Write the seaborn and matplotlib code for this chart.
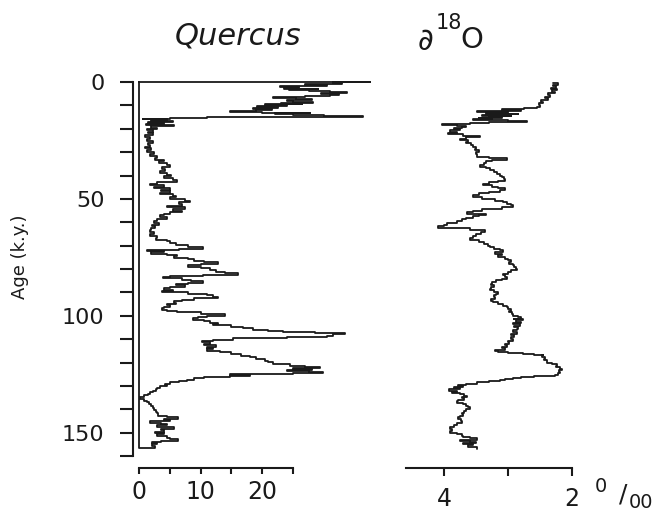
import numpy as np
import pandas as pd
import matplotlib
matplotlib.use("Agg")
import matplotlib.pyplot as plt
import seaborn as sns

# Quercus pollen (%) against age (k.y.)
quercus_age = [
    0.0, 0.5, 0.9, 1.3, 1.7, 2.0, 2.4, 2.8, 3.2, 3.5, 3.9, 4.3, 4.7, 5.1, 5.5, 6.0,
    6.4, 6.8, 7.2, 7.6, 8.0, 8.4, 8.8, 9.2, 9.6, 10.0, 10.4, 10.8, 11.2, 11.6, 12.0,
    12.4, 12.7, 13.1, 13.4, 13.8, 14.2, 14.6, 14.9, 15.3, 15.7, 16.0, 16.4, 16.8,
    17.2, 17.6, 18.0, 18.5, 19.0, 19.6, 20.1, 20.6, 21.3, 22.0, 22.8, 23.6, 24.4,
    25.2, 26.0, 26.8, 27.6, 28.4, 29.2, 30.0, 30.8, 31.6, 32.4, 33.2, 34.0, 34.8,
    35.6, 36.4, 37.2, 38.0, 38.8, 39.6, 40.4, 41.2, 42.0, 42.8, 43.5, 44.2, 44.8,
    45.4, 46.0, 46.7, 47.4, 48.0, 48.7, 49.4, 50.1, 50.8, 51.5, 52.2, 52.9, 53.6,
    54.3, 55.0, 55.7, 56.4, 57.1, 57.8, 58.6, 59.4, 60.2, 61.0, 61.8, 62.6, 63.4,
    64.2, 65.0, 65.8, 66.6, 67.4, 68.2, 69.0, 69.8, 70.6, 71.3, 71.9, 72.4, 72.9,
    73.4, 74.0, 74.6, 75.2, 75.8, 76.4, 77.0, 77.7, 78.3, 79.0, 79.7, 80.4, 81.1,
    81.8, 82.5, 83.0, 83.5, 84.0, 84.6, 85.2, 85.8, 86.4, 87.0, 87.6, 88.2, 88.8,
    89.4, 90.0, 90.6, 91.3, 92.0, 92.6, 93.2, 93.8, 94.4, 95.0, 95.6, 96.2, 96.8,
    97.4, 98.0, 98.6, 99.2, 99.9, 100.5, 101.1, 101.7, 102.3, 102.9, 103.5, 104.1,
    104.7, 105.4, 106.0, 106.6, 107.0, 107.5, 108.0, 108.5, 109.0, 109.6, 110.2,
    110.8, 111.4, 112.0, 112.6, 113.2, 113.8, 114.4, 115.0, 115.7, 116.4, 117.1,
    117.8, 118.5, 119.2, 119.9, 120.6, 121.3, 121.9, 122.4, 122.8, 123.2, 123.6,
    124.0, 124.4, 124.8, 125.2, 125.7, 126.2, 126.8, 127.4, 127.9, 128.5, 129.0,
    129.6, 130.2, 130.8, 131.4, 132.0, 132.7, 133.4, 134.1, 134.8, 135.6, 136.3,
    137.0, 137.8, 138.6, 139.4, 140.2, 141.0, 141.8, 142.7, 143.4, 144.0, 144.6,
    145.2, 145.7, 146.3, 146.9, 147.5, 148.3, 149.0, 149.6, 150.2, 150.8, 151.5,
    152.2, 152.8, 153.4, 154.0, 154.5, 155.0, 155.6, 156.4,
]
quercus_pct = [
    37.4, 31.5, 33.0, 27.0, 30.5, 22.9, 26.0, 23.5, 29.0, 24.3, 27.5, 31.0, 33.8, 29.5, 32.5, 31.0,
    27.0, 21.8, 25.5, 28.0, 24.0, 25.0, 28.3, 23.0, 26.5, 20.5, 24.0, 19.2, 22.5, 18.5, 21.5,
    19.0, 14.8, 20.0, 27.8, 22.0, 25.0, 30.0, 36.3, 11.0, 5.0, 0.7, 4.5, 2.0,
    5.5, 1.5, 4.0, 1.2, 5.6, 2.0, 3.0, 1.3, 2.3, 1.5, 2.3, 1.0, 1.8,
    1.3, 2.2, 1.4, 1.8, 1.0, 2.0, 1.3, 2.4, 1.8, 3.0, 2.6, 4.0, 3.2,
    4.5, 5.0, 3.8, 4.2, 3.4, 4.6, 5.2, 4.0, 5.5, 6.1, 3.0, 1.8, 4.0,
    2.5, 5.0, 3.5, 5.0, 3.4, 5.5, 6.0, 5.0, 7.5, 8.3, 6.5, 7.0, 4.5,
    7.5, 5.5, 7.0, 5.0, 4.0, 3.4, 4.5, 3.0, 2.4, 3.2, 2.1, 2.6, 2.0,
    1.8, 2.5, 1.8, 3.0, 2.8, 4.5, 5.0, 6.0, 8.0, 10.4, 6.5, 1.3, 4.0,
    2.0, 4.5, 6.1, 5.6, 8.0, 9.0, 10.5, 12.8, 10.0, 8.0, 10.0, 11.5, 12.5,
    14.0, 16.1, 10.4, 5.0, 3.9, 7.0, 8.5, 10.4, 8.0, 6.0, 7.5, 5.0, 4.0,
    5.5, 3.7, 8.0, 11.0, 12.0, 12.8, 9.0, 7.0, 5.6, 6.0, 4.5, 5.0, 4.0,
    3.7, 4.5, 6.1, 10.0, 14.0, 11.0, 9.5, 8.8, 10.5, 11.5, 12.8, 12.0,
    15.0, 16.9, 18.5, 21.0, 23.4, 28.5, 33.5, 31.5, 30.5, 24.0, 15.3,
    12.0, 10.2, 11.5, 10.5, 12.5, 11.0, 12.0, 11.0, 13.2, 15.0, 16.5,
    18.0, 19.0, 20.5, 21.0, 21.8, 24.5, 27.0, 29.4, 25.0, 28.0, 24.0,
    27.5, 29.8, 25.0, 14.8, 18.0, 14.8, 10.5, 9.0, 7.8, 6.5, 5.0,
    4.2, 4.5, 3.4, 3.0, 2.8, 2.3, 1.8, 1.5, 0.8, 0.1, 0.8,
    1.3, 1.6, 2.0, 2.3, 2.5, 2.8, 3.0, 3.1, 4.5, 6.3, 4.0,
    5.0, 1.8, 3.5, 4.5, 3.0, 5.6, 3.5, 4.0, 2.6, 4.0, 3.0,
    4.5, 5.0, 6.3, 3.5, 2.1, 3.0, 2.1, 2.6,
]

# Oxygen isotope record (per mil) against age (k.y.)
d18o_age = [
    0.6, 1.2, 1.8, 2.4, 3.0, 3.6, 4.2, 4.8, 5.4, 6.3, 7.0, 7.7, 8.4, 9.1, 9.8, 10.5,
    11.2, 11.6, 12.0, 12.3, 12.6, 12.9, 13.2, 13.5, 13.8, 14.1, 14.4, 14.7, 15.0,
    15.3, 15.6, 15.9, 16.2, 16.6, 17.0, 17.4, 17.8, 18.1, 18.4, 18.8, 19.2, 19.7,
    20.2, 20.7, 21.2, 21.8, 22.3, 22.9, 23.5, 24.2, 24.9, 25.6, 26.3, 27.0, 27.7,
    28.5, 29.3, 30.1, 31.0, 32.0, 32.7, 33.4, 34.0, 34.6, 35.4, 36.3, 37.0, 37.8,
    38.5, 39.2, 40.0, 40.8, 41.5, 42.2, 42.9, 43.6, 44.2, 44.8, 45.5, 46.3, 47.0,
    47.7, 48.5, 49.2, 49.9, 50.7, 51.4, 52.1, 52.8, 53.6, 54.3, 55.0, 55.6, 56.3,
    56.9, 57.5, 58.1, 58.8, 59.6, 60.4, 61.1, 61.8, 62.6, 63.4, 64.2, 65.0, 65.8,
    66.7, 67.7, 68.5, 69.4, 70.2, 70.6, 71.3, 72.0, 72.8, 73.5, 74.2, 75.0, 75.6,
    76.3, 77.0, 77.7, 78.4, 79.2, 80.0, 80.6, 81.3, 82.0, 82.7, 83.4, 84.1, 84.8,
    85.6, 86.3, 87.0, 87.8, 88.5, 89.1, 89.8, 90.6, 91.3, 92.0, 92.8, 93.5, 94.3,
    95.0, 95.7, 96.4, 97.1, 97.8, 98.5, 99.2, 100.0, 100.6, 101.2, 101.6, 102.0,
    102.5, 103.0, 103.6, 104.2, 104.8, 105.5, 106.3, 107.0, 107.7, 108.4, 109.2,
    110.0, 110.6, 111.3, 112.0, 112.7, 113.4, 114.0, 114.6, 115.0, 115.6, 116.0,
    116.3, 116.7, 117.0, 117.6, 118.3, 119.0, 119.6, 120.0, 120.6, 121.4, 122.0,
    122.7, 123.4, 124.0, 124.6, 125.2, 125.6, 126.0, 126.5, 127.0, 127.5, 128.0,
    128.5, 129.0, 129.5, 130.0, 130.5, 131.0, 131.5, 132.0, 132.5, 133.0, 133.6,
    134.2, 134.8, 135.4, 136.0, 136.6, 137.2, 137.8, 138.5, 139.2, 140.0, 140.7,
    141.4, 142.1, 142.8, 143.5, 144.3, 145.1, 146.0, 146.8, 147.6, 148.4, 149.2,
    150.0, 150.7, 151.3, 152.0, 152.5, 153.0, 153.5, 154.0, 154.5, 155.0, 155.5,
    156.0, 157.0,
]
d18o_val = [
    2.30, 2.22, 2.30, 2.25, 2.33, 2.24, 2.32, 2.27, 2.38, 2.34, 2.42, 2.38, 2.48, 2.45, 2.52, 2.50,
    2.55, 2.75, 3.09, 2.80, 3.30, 3.48, 3.00, 3.35, 2.85, 3.20, 3.40, 2.95, 3.30,
    3.10, 3.45, 3.25, 3.55, 3.00, 2.70, 3.30, 3.60, 3.90, 4.03, 3.80, 3.65, 3.72,
    3.85, 3.75, 3.90, 3.80, 3.94, 3.70, 3.44, 3.65, 3.75, 3.62, 3.66, 3.58, 3.55,
    3.50, 3.52, 3.46, 3.50, 3.48, 3.30, 3.02, 3.25, 3.35, 3.38, 3.44, 3.35, 3.28,
    3.22, 3.17, 3.12, 3.10, 3.07, 3.05, 3.15, 3.30, 3.39, 3.25, 3.15, 3.05, 3.12,
    3.30, 3.45, 3.55, 3.40, 3.20, 3.08, 3.02, 2.96, 2.92, 3.10, 3.40, 3.55, 3.64,
    3.35, 3.45, 3.55, 3.65, 3.72, 3.80, 3.95, 4.00, 4.09, 3.60, 3.36, 3.42, 3.50,
    3.55, 3.59, 3.45, 3.38, 3.32, 3.28, 3.22, 3.12, 3.08, 3.20, 3.10, 3.15, 3.05,
    3.00, 2.95, 2.98, 2.92, 2.90, 2.88, 2.86, 2.95, 3.00, 3.08, 3.04, 3.02, 3.10,
    3.18, 3.25, 3.27, 3.22, 3.26, 3.28, 3.22, 3.16, 3.18, 3.22, 3.20, 3.26, 3.23,
    3.15, 3.08, 3.02, 3.00, 2.96, 2.98, 2.94, 2.92, 2.85, 2.80, 2.90, 2.77,
    2.88, 2.80, 2.92, 2.82, 2.90, 2.85, 2.86, 2.92, 2.86, 2.95, 2.90,
    2.95, 2.92, 3.00, 2.98, 3.05, 3.02, 3.10, 3.05, 3.20, 3.16, 3.00,
    2.77, 2.60, 2.45, 2.47, 2.42, 2.44, 2.39, 2.39, 2.32, 2.23, 2.25,
    2.18, 2.16, 2.20, 2.18, 2.22, 2.27, 2.60, 2.80, 2.92, 3.05, 3.13,
    3.30, 3.48, 3.65, 3.78, 3.70, 3.85, 3.75, 3.92, 3.80, 3.88, 3.75,
    3.68, 3.64, 3.72, 3.68, 3.78, 3.80, 3.70, 3.66, 3.62, 3.59, 3.65,
    3.68, 3.72, 3.70, 3.75, 3.78, 3.74, 3.72, 3.80, 3.85, 3.90, 3.88,
    3.91, 3.80, 3.72, 3.70, 3.60, 3.48, 3.75, 3.60, 3.50, 3.70, 3.55,
    3.62, 3.48,
]

age_ticks = [0, 50, 100, 150]
quercus_ticks = [0, 10, 20]
d18o_ticks = [4, 2]

sns.set_theme(style="white")
plt.rcParams["font.family"] = ["DejaVu Sans"]

W, H = 659, 515
fig = plt.figure(figsize=(W / 100, H / 100), dpi=100)
fig.patch.set_facecolor("white")


def frac(x0, x1, y_top, y_bot):
    return [x0 / W, 1 - y_bot / H, (x1 - x0) / W, (y_bot - y_top) / H]


ink = "#1a1a1a"

# Quercus panel: curve drawn as an outline closed against the zero line
ax1 = fig.add_axes(frac(139, 380, 82, 456))
q_x = [0.0] + quercus_pct + [0.0, 0.0]
q_y = [quercus_age[0]] + quercus_age + [quercus_age[-1], 0.0]
q_df = pd.DataFrame({"pct": q_x, "age": q_y})
sns.lineplot(data=q_df, x="pct", y="age", sort=False, estimator=None,
             drawstyle="steps-post", color=ink, lw=1.3, ax=ax1)
for ln in ax1.lines:
    ln.set_clip_on(False)
ax1.set_xlim(0, 39.1)
ax1.set_ylim(160, 0)
for s in ("top", "right"):
    ax1.spines[s].set_visible(False)
ax1.spines["left"].set_position(("outward", 4.5))
ax1.spines["bottom"].set_position(("outward", 8.6))
ax1.spines["bottom"].set_bounds(0, 25)
for s in ("left", "bottom"):
    ax1.spines[s].set_color(ink)
    ax1.spines[s].set_linewidth(1.5)
ax1.set_yticks(age_ticks)
ax1.set_yticks(np.arange(0, 161, 10), minor=True)
ax1.set_xticks(np.arange(0, 26, 5), minor=True)
ax1.set_xticks(quercus_ticks)
ax1.tick_params(axis="y", which="both", direction="out", length=9.4, width=1.5,
                color=ink, left=True, labelsize=16, pad=11, labelcolor=ink)
ax1.tick_params(axis="x", which="both", direction="out", length=4, width=1.5,
                color=ink, bottom=True, labelsize=17, pad=5, labelcolor=ink)
ax1.set_xlabel("")
ax1.set_ylabel("")
ax1.patch.set_alpha(0)

# Oxygen isotope panel (reversed axis)
ax2 = fig.add_axes(frac(400, 590, 82, 456))
o_df = pd.DataFrame({"d18o": d18o_val, "age": d18o_age})
sns.lineplot(data=o_df, x="d18o", y="age", sort=False, estimator=None,
             drawstyle="steps-post", color=ink, lw=1.3, ax=ax2)
ax2.set_xlim(4.6875, 1.719)
ax2.set_ylim(160, 0)
for s in ("top", "right", "left"):
    ax2.spines[s].set_visible(False)
ax2.spines["bottom"].set_position(("outward", 8.6))
ax2.spines["bottom"].set_bounds(4.6, 2)
ax2.spines["bottom"].set_color(ink)
ax2.spines["bottom"].set_linewidth(1.5)
ax2.set_xticks([3], minor=True)
ax2.set_xticks(d18o_ticks)
ax2.set_yticks([])
ax2.tick_params(axis="x", which="both", direction="out", length=6, width=1.5,
                color=ink, bottom=True, labelsize=17, pad=8, labelcolor=ink)
ax2.set_xlabel("")
ax2.set_ylabel("")
ax2.patch.set_alpha(0)

# Titles and labels
fig.text(238 / W, 1 - 36 / H, "Quercus", ha="center", va="center",
         fontsize=22, style="italic", color=ink)
fig.text(426 / W, 1 - 41 / H, "\u2202", ha="center", va="center",
         fontsize=22, color=ink)
fig.text(449 / W, 1 - 23 / H, "18", ha="center", va="center",
         fontsize=15, color=ink)
fig.text(472 / W, 1 - 40 / H, "O", ha="center", va="center",
         fontsize=21, color=ink)
fig.text(20 / W, 1 - 257 / H, "Age (k.y.)", ha="center", va="center",
         rotation=90, fontsize=13, color=ink)
fig.text(601 / W, 1 - 487 / H, "0", ha="center", va="center",
         fontsize=14, color=ink)
fig.text(623 / W, 1 - 494 / H, "/", ha="center", va="center",
         fontsize=18, color=ink)
fig.text(641 / W, 1 - 502 / H, "00", ha="center", va="center",
         fontsize=14, color=ink)

fig.savefig("out.png", dpi=100, facecolor="white")
